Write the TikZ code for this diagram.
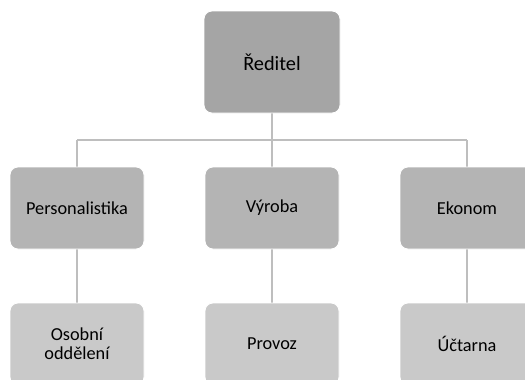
\documentclass[tikz,border=0pt]{standalone}
\usepackage{fontspec}
\setmainfont{Carlito}
\definecolor{topfill}{HTML}{A5A5A5}
\definecolor{midfill}{HTML}{B4B4B4}
\definecolor{lowfill}{HTML}{C9C9C9}
\definecolor{linkgray}{HTML}{BEBEBE}
\tikzset{
  orgbox/.style={draw=white, line width=0.8pt, rounded corners=8pt, inner sep=0pt,
    align=center, text=black},
  headbox/.style={orgbox, fill=topfill, minimum width=136pt, minimum height=102pt,
    font=\fontsize{20.3}{22}\selectfont},
  deptbox/.style={orgbox, fill=midfill, minimum width=134pt, minimum height=82pt,
    font=\fontsize{18.3}{19}\selectfont},
  unitbox/.style={orgbox, fill=lowfill, minimum width=134pt, minimum height=82pt,
    font=\fontsize{18.3}{19}\selectfont},
  link/.style={draw=linkgray, line width=2pt},
}
\begin{document}
\begin{tikzpicture}[x=1pt, y=-1pt]
  \useasboundingbox (0,0) rectangle (525,380);
  \clip (0,0) rectangle (525,380);
  % bus line joining the three departments
  \coordinate (busL) at (77,140);
  \coordinate (busM) at (272,140);
  \coordinate (busR) at (467,140);
  % connectors (drawn first, boxes sit on top)
  \draw[link] (busL) -- (busR);
  \draw[link] (272,62) -- (busM);
  \draw[link] (busL) -- (77,344);
  \draw[link] (busM) -- (272,344);
  \draw[link] (busR) -- (467,344);
  % boxes
  \node[headbox] (head) at (272,62) {Ředitel};
  \node[deptbox] (pers) at (77,208) {Personalistika};
  \node[deptbox] (vyr)  at (272,208) {Výroba};
  \node[deptbox] (eko)  at (467,208) {Ekonom};
  \node[unitbox] (oso)  at (77,344) {Osobní\\oddělení};
  \node[unitbox] (prov) at (272,344) {Provoz};
  \node[unitbox] (ucet) at (467,344) {Účtarna};
\end{tikzpicture}
\end{document}
